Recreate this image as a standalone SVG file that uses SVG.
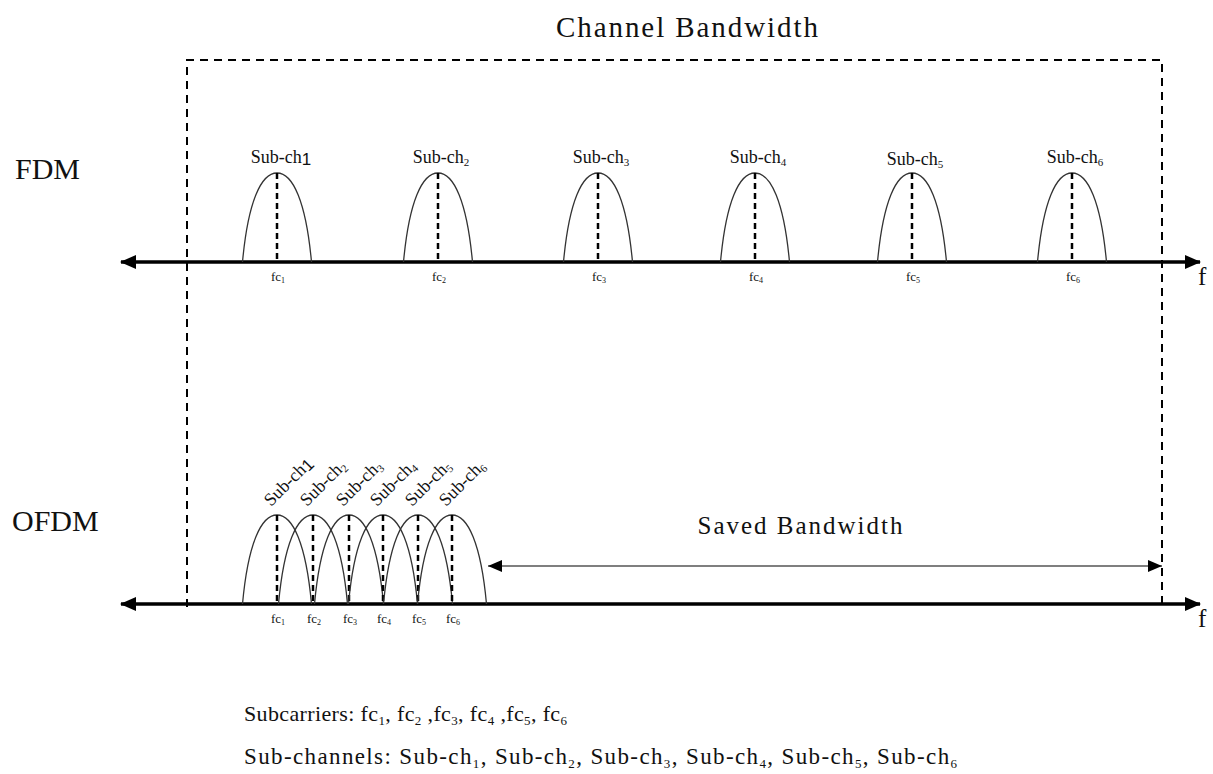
<svg xmlns="http://www.w3.org/2000/svg" width="1213" height="774" viewBox="0 0 1213 774">
<style>
text{font-family:"Liberation Serif","DejaVu Serif",serif;fill:#111}
.big{font-size:30px}
.lab{font-size:18px}
.fc{font-size:13px}
.hump{fill:none;stroke:#333;stroke-width:1.3}
.cdash{stroke:#000;stroke-width:2.5;stroke-dasharray:6 4}
.bw{fill:none;stroke:#000;stroke-width:2;stroke-dasharray:8 6}
.axis{stroke:#000;stroke-width:3.5}
</style>
<defs>
<marker id="ah" viewBox="0 0 16 14" refX="15" refY="7" markerWidth="16" markerHeight="14" markerUnits="userSpaceOnUse" orient="auto-start-reverse"><path d="M0,0 L16,7 L0,14 Z" fill="#000"/></marker>
<marker id="sh" viewBox="0 0 14 12" refX="14" refY="6" markerWidth="14" markerHeight="12" markerUnits="userSpaceOnUse" orient="auto-start-reverse"><path d="M0,0 L14,6 L0,12 Z" fill="#000"/></marker>
<path id="h" class="hump" d="M-34.5,0 C-29,-60 -16,-89 0,-89 C16,-89 29,-60 34.5,0"/>
<line id="d" class="cdash" x1="0" y1="-89" x2="0" y2="0"/>
</defs>

<g id="channel-bandwidth">
<path class="bw" d="M187,607 L187,60 L1162,60 L1162,607"/>
<text x="687" y="37" text-anchor="middle" font-size="29" textLength="262">Channel Bandwidth</text>
</g>

<g id="connectors">
<line class="axis" x1="121" y1="262" x2="1200" y2="262" marker-start="url(#ah)" marker-end="url(#ah)"/>
<line class="axis" x1="121" y1="604" x2="1200" y2="604" marker-start="url(#ah)" marker-end="url(#ah)"/>
<line stroke="#000" stroke-width="1.2" x1="488" y1="566" x2="1162" y2="566" marker-start="url(#sh)" marker-end="url(#sh)"/>
</g>

<g id="fdm-label"><text class="big" x="15" y="179">FDM</text></g>
<g id="ofdm-label"><text class="big" x="12" y="531">OFDM</text></g>
<g id="f-labels">
<text x="1198" y="285" font-size="25">f</text>
<text x="1198" y="627" font-size="25">f</text>
</g>

<g id="fdm-sub-ch1" transform="translate(277,262)"><use href="#h"/><use href="#d"/>
<text class="lab" x="4" y="-99" text-anchor="middle">Sub-ch<tspan font-family="Liberation Sans,sans-serif" font-size="17" dy="2">1</tspan></text>
<text class="fc" x="1" y="19" text-anchor="middle">fc<tspan font-size="8" dy="2">1</tspan></text></g>
<g id="fdm-sub-ch2" transform="translate(438,262)"><use href="#h"/><use href="#d"/>
<text class="lab" x="3" y="-99" text-anchor="middle">Sub-ch<tspan font-size="11" dy="3">2</tspan></text>
<text class="fc" x="1" y="19" text-anchor="middle">fc<tspan font-size="8" dy="2">2</tspan></text></g>
<g id="fdm-sub-ch3" transform="translate(598,262)"><use href="#h"/><use href="#d"/>
<text class="lab" x="3" y="-99" text-anchor="middle">Sub-ch<tspan font-size="11" dy="3">3</tspan></text>
<text class="fc" x="1" y="19" text-anchor="middle">fc<tspan font-size="8" dy="2">3</tspan></text></g>
<g id="fdm-sub-ch4" transform="translate(755,262)"><use href="#h"/><use href="#d"/>
<text class="lab" x="3" y="-99" text-anchor="middle">Sub-ch<tspan font-size="11" dy="3">4</tspan></text>
<text class="fc" x="1" y="19" text-anchor="middle">fc<tspan font-size="8" dy="2">4</tspan></text></g>
<g id="fdm-sub-ch5" transform="translate(912,262)"><use href="#h"/><use href="#d"/>
<text class="lab" x="3" y="-97" text-anchor="middle">Sub-ch<tspan font-size="11" dy="3">5</tspan></text>
<text class="fc" x="1" y="19" text-anchor="middle">fc<tspan font-size="8" dy="2">5</tspan></text></g>
<g id="fdm-sub-ch6" transform="translate(1072,262)"><use href="#h"/><use href="#d"/>
<text class="lab" x="3" y="-99" text-anchor="middle">Sub-ch<tspan font-size="11" dy="3">6</tspan></text>
<text class="fc" x="1" y="19" text-anchor="middle">fc<tspan font-size="8" dy="2">6</tspan></text></g>

<g id="ofdm-sub-ch1" transform="translate(277,604)"><use href="#h"/><use href="#d"/>
<text class="lab" transform="translate(-6,-97) rotate(-45)">Sub-ch<tspan font-family="Liberation Sans,sans-serif" font-size="17" dy="2">1</tspan></text>
<text class="fc" x="1" y="19" text-anchor="middle">fc<tspan font-size="8" dy="2">1</tspan></text></g>
<g id="ofdm-sub-ch2" transform="translate(313,604)"><use href="#h"/><use href="#d"/>
<text class="lab" transform="translate(-6,-97) rotate(-45)">Sub-ch<tspan font-size="11" dy="3">2</tspan></text>
<text class="fc" x="1" y="19" text-anchor="middle">fc<tspan font-size="8" dy="2">2</tspan></text></g>
<g id="ofdm-sub-ch3" transform="translate(349,604)"><use href="#h"/><use href="#d"/>
<text class="lab" transform="translate(-6,-97) rotate(-45)">Sub-ch<tspan font-size="11" dy="3">3</tspan></text>
<text class="fc" x="1" y="19" text-anchor="middle">fc<tspan font-size="8" dy="2">3</tspan></text></g>
<g id="ofdm-sub-ch4" transform="translate(383,604)"><use href="#h"/><use href="#d"/>
<text class="lab" transform="translate(-6,-97) rotate(-45)">Sub-ch<tspan font-size="11" dy="3">4</tspan></text>
<text class="fc" x="1" y="19" text-anchor="middle">fc<tspan font-size="8" dy="2">4</tspan></text></g>
<g id="ofdm-sub-ch5" transform="translate(418,604)"><use href="#h"/><use href="#d"/>
<text class="lab" transform="translate(-6,-97) rotate(-45)">Sub-ch<tspan font-size="11" dy="3">5</tspan></text>
<text class="fc" x="1" y="19" text-anchor="middle">fc<tspan font-size="8" dy="2">5</tspan></text></g>
<g id="ofdm-sub-ch6" transform="translate(452,604)"><use href="#h"/><use href="#d"/>
<text class="lab" transform="translate(-6,-97) rotate(-45)">Sub-ch<tspan font-size="11" dy="3">6</tspan></text>
<text class="fc" x="1" y="19" text-anchor="middle">fc<tspan font-size="8" dy="2">6</tspan></text></g>

<g id="saved-bandwidth"><text x="800" y="534" text-anchor="middle" font-size="25" textLength="205">Saved Bandwidth</text></g>

<g id="legend">
<text x="244" y="721" font-size="22" textLength="323">Subcarriers: fc<tspan font-size="13" dy="4">1</tspan><tspan dy="-4">, fc</tspan><tspan font-size="13" dy="4">2</tspan><tspan dy="-4"> ,fc</tspan><tspan font-size="13" dy="4">3</tspan><tspan dy="-4">, fc</tspan><tspan font-size="13" dy="4">4</tspan><tspan dy="-4"> ,fc</tspan><tspan font-size="13" dy="4">5</tspan><tspan dy="-4">, fc</tspan><tspan font-size="13" dy="4">6</tspan></text>
<text x="244" y="764" font-size="23" textLength="713">Sub-channels: Sub-ch<tspan font-size="13" dy="4">1</tspan><tspan dy="-4">, Sub-ch</tspan><tspan font-size="13" dy="4">2</tspan><tspan dy="-4">, Sub-ch</tspan><tspan font-size="13" dy="4">3</tspan><tspan dy="-4">, Sub-ch</tspan><tspan font-size="13" dy="4">4</tspan><tspan dy="-4">, Sub-ch</tspan><tspan font-size="13" dy="4">5</tspan><tspan dy="-4">, Sub-ch</tspan><tspan font-size="13" dy="4">6</tspan></text>
</g>
</svg>
